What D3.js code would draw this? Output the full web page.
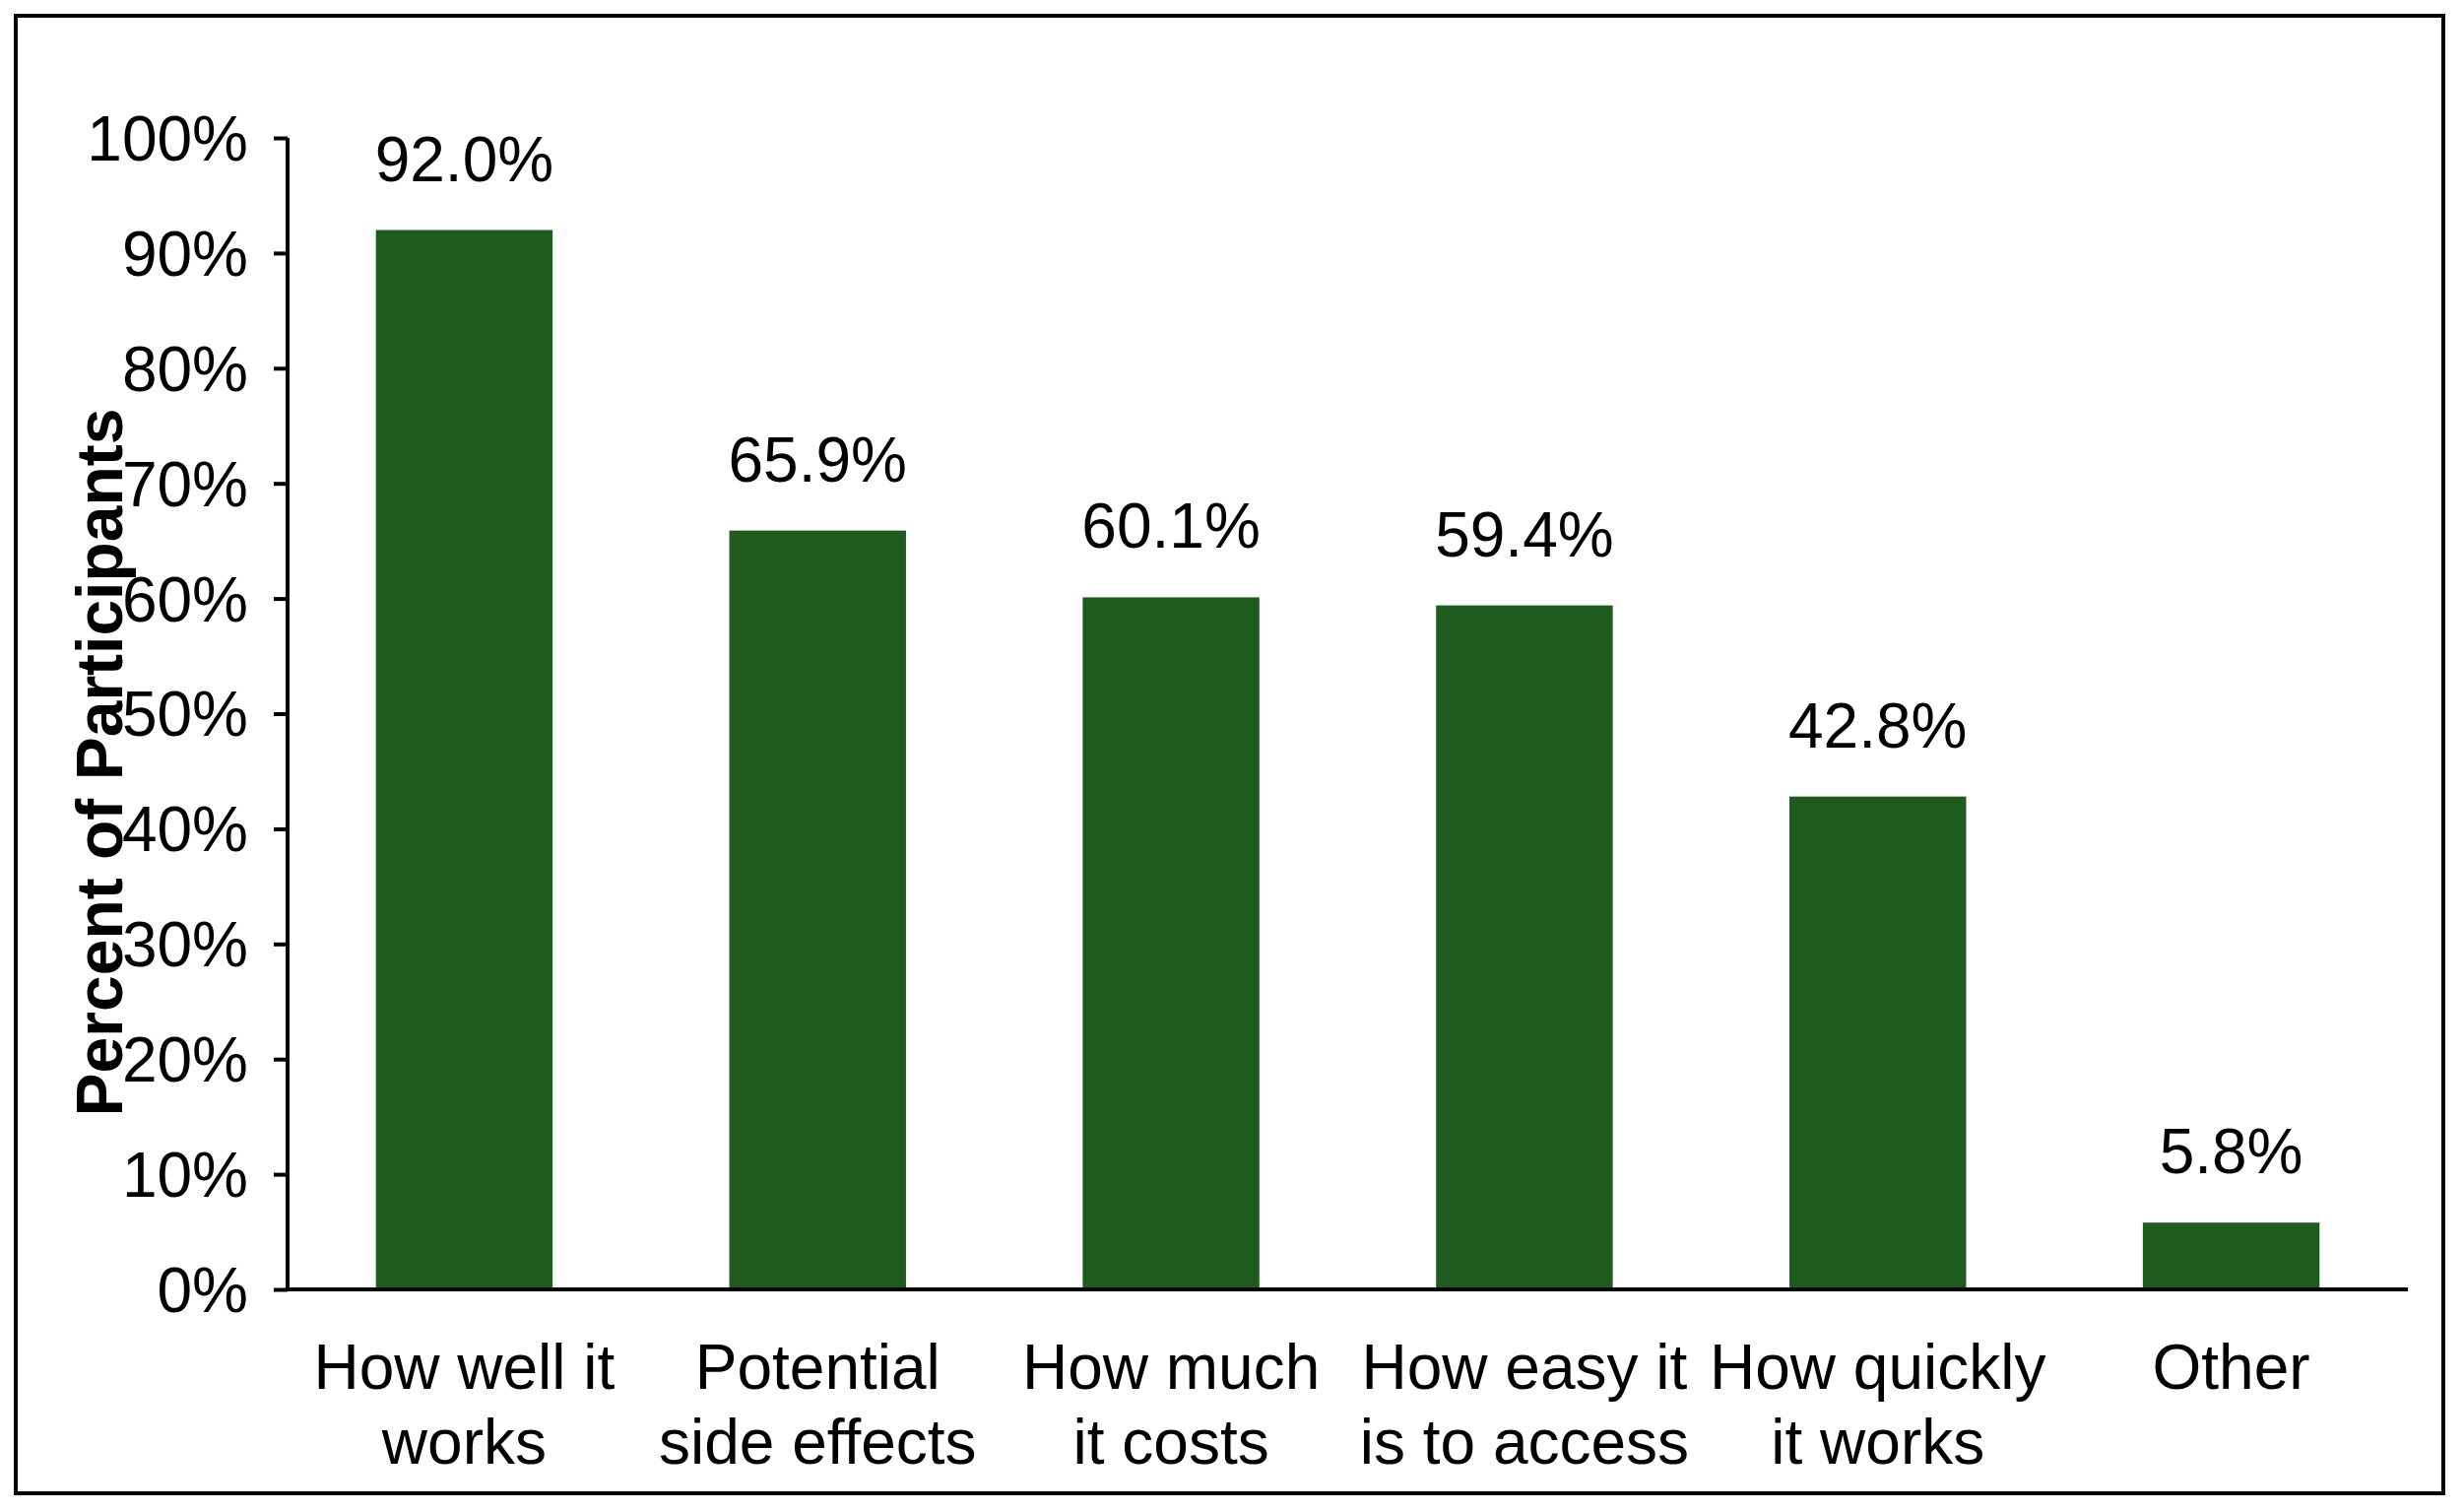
<!DOCTYPE html>
<html lang="en">
<head>
<meta charset="utf-8">
<title>Percent of Participants</title>
<script src="https://cdn.jsdelivr.net/npm/d3@7"></script>
<style>
  body { margin: 0; background: #fff; }
  text { font-family: "Liberation Sans", Arial, sans-serif; fill: #000; }
</style>
</head>
<body>
<script>
var categories = [["How well it", "works"], ["Potential", "side effects"], ["How much", "it costs"],
                  ["How easy it", "is to access"], ["How quickly", "it works"], ["Other"]];
var values = [92.0, 65.9, 60.1, 59.4, 42.8, 5.8];
var ticks = [0, 10, 20, 30, 40, 50, 60, 70, 80, 90, 100];

var w = 2502, h = 1535;
var plotLeft = 292, plotRight = 2445, plotTop = 140, plotBottom = 1309;
var fs = 64;

var svg = d3.select("body").append("svg").attr("width", w).attr("height", h);

svg.append("rect").attr("x", 16).attr("y", 16).attr("width", 2465).attr("height", 1500)
   .attr("fill", "none").attr("stroke", "#000").attr("stroke-width", 4);

var x = d3.scaleBand().domain(d3.range(values.length)).range([plotLeft, plotRight]).paddingInner(0.5).paddingOuter(0.25);
var y = d3.scaleLinear().domain([0, 100]).range([plotBottom, plotTop]);

svg.selectAll("rect.bar").data(values).enter().append("rect")
   .attr("class", "bar")
   .attr("x", function(d, i) { return x(i); })
   .attr("y", function(d) { return y(d); })
   .attr("width", x.bandwidth())
   .attr("height", function(d) { return plotBottom - y(d); })
   .attr("fill", "#1f5a1f");

svg.selectAll("text.val").data(values).enter().append("text")
   .attr("class", "val")
   .attr("x", function(d, i) { return x(i) + x.bandwidth() / 2; })
   .attr("y", function(d) { return y(d) - 50; })
   .attr("text-anchor", "middle").attr("font-size", fs)
   .text(function(d) { return d.toFixed(1) + "%"; });

var yAxis = svg.append("g").attr("transform", "translate(" + plotLeft + ",0)")
   .call(d3.axisLeft(y).tickValues(ticks).tickSize(14).tickFormat(function(d) { return d + "%"; }));
yAxis.select(".domain").attr("stroke-width", 4).attr("d", "M0," + plotTop + "V" + plotBottom);
yAxis.selectAll("line").attr("stroke-width", 4);
yAxis.selectAll("text").attr("font-size", fs).attr("x", -40).attr("dy", "0.35em")
   .style("font-family", "'Liberation Sans', Arial, sans-serif");

svg.append("line").attr("x1", plotLeft).attr("x2", plotRight).attr("y1", plotBottom).attr("y2", plotBottom)
   .attr("stroke", "#000").attr("stroke-width", 4);

svg.selectAll("text.cat").data(categories).enter().append("text")
   .attr("class", "cat")
   .attr("text-anchor", "middle").attr("font-size", fs)
   .attr("transform", function(d, i) { return "translate(" + (x(i) + x.bandwidth() / 2) + ",1410)"; })
   .selectAll("tspan").data(function(d) { return d; }).enter().append("tspan")
   .attr("x", 0).attr("dy", function(d, j) { return j ? 76 : 0; })
   .text(function(d) { return d; });

svg.append("text").attr("transform", "translate(124,774) rotate(-90)")
   .attr("text-anchor", "middle").attr("font-size", 66).attr("font-weight", "bold")
   .text("Percent of Participants");
</script>
</body>
</html>
